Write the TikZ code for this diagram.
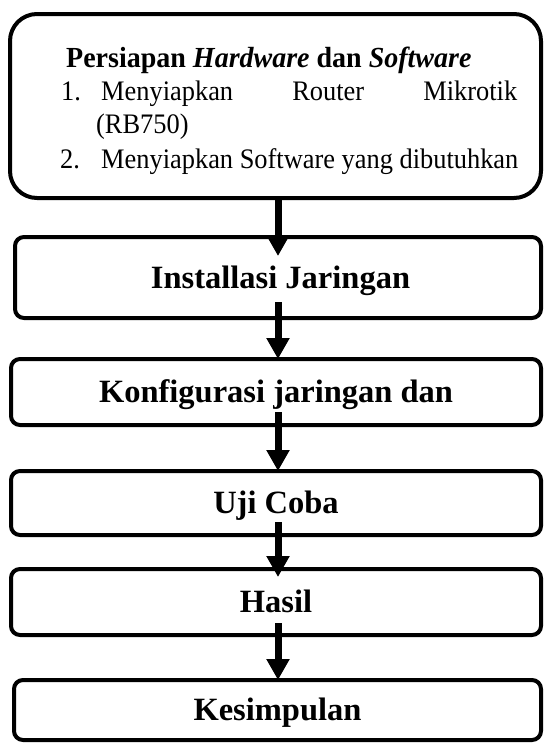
\documentclass[tikz,border=0pt]{standalone}
\usepackage{fontspec}
\usepackage{graphicx}
\setmainfont{Liberation Serif}
\usetikzlibrary{arrows.meta,calc}
\newcommand{\talltxt}[1]{\scalebox{1}[1.07]{#1}}
\begin{document}
\begin{tikzpicture}[x=1pt,y=-1pt,
  boxstyle/.style={draw, line width=4pt, rounded corners=9pt, inner sep=0pt, outer sep=0pt,
    font=\fontsize{32.5}{38}\selectfont\bfseries, text height=21.5pt, text depth=0pt},
  toptext/.style={inner sep=0pt, anchor=base west, font=\fontsize{26.4}{32}\selectfont},
  flow/.style={line width=7pt, -{Triangle[width=22pt,length=21pt]}}
]
\useasboundingbox (0,0) rectangle (546,745);
\coordinate (ax) at (278,0);
% boxes
\node[boxstyle, rounded corners=27pt, minimum width=531pt, minimum height=184pt] (b1) at (275.5,106) {};
\node[boxstyle, minimum width=526pt, minimum height=81pt] (b2) at (278,277.5) {\hspace*{5pt}Installasi Jaringan};
\node[boxstyle, minimum width=530pt, minimum height=66pt] (b3) at (276,392) {Konfigurasi jaringan dan};
\node[boxstyle, minimum width=530pt, minimum height=64pt] (b4) at (276,503) {Uji Coba};
\node[boxstyle, minimum width=530pt, minimum height=66pt] (b5) at (276,602) {Hasil};
\node[boxstyle, minimum width=527pt, minimum height=60pt] (b6) at (277.5,710) {Kesimpulan};
% top box text
\node[toptext, font=\fontsize{28}{32}\selectfont\bfseries] (h1) at (66,67) {\scalebox{1}[1.04]{Persiapan \textit{Hardware} dan \textit{Software}}};
\node[toptext] (n1) at (61,100) {\talltxt{1.}};
\node[toptext] (l1) at (101,100) {\talltxt{\hbox to 416pt{Menyiapkan\hfill Router\hfill Mikrotik}}};
\node[toptext] (l2) at (96,133) {\talltxt{(RB750)}};
\node[toptext] (n2) at (60,168) {\talltxt{2.}};
\node[toptext] (l3) at (101,168) {\talltxt{Menyiapkan Software yang dibutuhkan}};
% arrows
\draw[flow] (b1.south -| ax) -- ($(b2.north -| ax)+(0,19)$);
\draw[flow] ($(b2.south -| ax)+(0,-16)$) -- (b3.north -| ax);
\draw[flow] ($(b3.south -| ax)+(0,-13)$) -- (b4.north -| ax);
\draw[flow] ($(b4.south -| ax)+(0,-13)$) -- ($(b5.north -| ax)+(0,8)$);
\draw[flow] ($(b5.south -| ax)+(0,-12)$) -- (b6.north -| ax);
\end{tikzpicture}
\end{document}
